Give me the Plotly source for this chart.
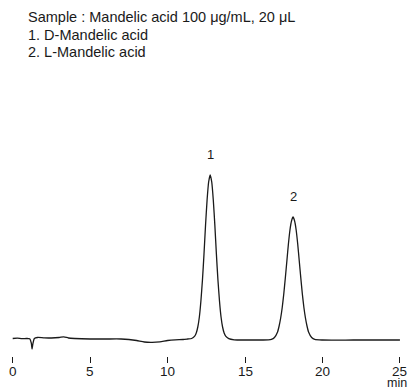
import plotly.graph_objects as go

# Chromatogram trace (time in min, detector response in arbitrary units)
time_min = [0.0, 0.3, 0.6, 0.9, 1.1, 1.2, 1.25, 1.3, 1.4, 1.6, 2.0, 2.5, 3.0, 3.3, 3.6, 4.0,
            5.0, 6.0, 7.0, 7.5, 8.0, 8.5, 9.0, 9.5, 10.0, 10.5, 11.0, 11.3,
            11.55, 11.75, 11.85, 11.95, 12.05, 12.15, 12.25, 12.35, 12.45, 12.55, 12.65,
            12.75, 12.85, 12.95, 13.05, 13.15, 13.25, 13.35, 13.45, 13.55, 13.65, 13.75,
            13.95, 14.3, 15.0, 16.0, 16.5, 16.7, 16.9, 17.1, 17.2, 17.3, 17.4, 17.5, 17.6,
            17.7, 17.8, 17.9, 18.0, 18.1, 18.2, 18.3, 18.4, 18.5, 18.6, 18.7, 18.8, 18.9,
            19.0, 19.1, 19.3, 19.5, 20.0, 22.0, 24.0, 25.0]
signal = [0.5, 0.8, 0.3, 0.5, 0.2, -4, -10, -5, 0.5, 1.5, 1.2, 1.0, 1.5, 2.2, 1.0, 0.5,
          0, 0, 0, -0.5, -1.5, -3, -3.3, -2.8, -1.5, -0.8, -0.5, 0.0,
          0.5, 2.8, 6, 12, 22, 38, 59, 85, 114, 139, 157,
          164, 157, 139, 114, 85, 59, 38, 22, 12, 6, 2.8,
          0.3, -0.8, -1, -1, -0.8, -0.4, 1.5, 7, 13, 21, 31.5, 45, 61,
          78, 95, 109, 118, 122, 118, 109, 95, 78, 61, 45, 31.5, 21,
          13, 7, 1.5, -0.4, -1, -1, -1, -1]

peak_labels = ["1", "2"]
peak_times = [12.75, 18.1]
peak_heights = [164, 122]

tick_vals = [0, 5, 10, 15, 20, 25]
tick_text = ["0", "5", "10", "15", "20", "25"]

header_lines = ["Sample : Mandelic acid 100 μg/mL, 20 μL",
                "1. D-Mandelic acid",
                "2. L-Mandelic acid"]

FONT = "Liberation Sans, Arial, Helvetica, sans-serif"
INK = "#1a1a1a"

fig = go.Figure()
fig.add_trace(go.Scatter(x=time_min, y=signal, mode="lines",
                         line=dict(color=INK, width=1.3, shape="spline", smoothing=0.6),
                         hoverinfo="skip", showlegend=False))

for lab, t, h in zip(peak_labels, peak_times, peak_heights):
    fig.add_annotation(x=t, y=h, text=lab, showarrow=False, xref="x", yref="y",
                       yanchor="bottom", yshift=11,
                       font=dict(family=FONT, size=13, color=INK))

H_PLOT = 356.0
for i, line in enumerate(header_lines):
    ypx = 17 + 17.5 * i
    fig.add_annotation(x=27 / 409, y=1 - ypx / H_PLOT, xref="paper", yref="paper",
                       text=line, showarrow=False, xanchor="left", yanchor="middle",
                       xshift=-1,
                       font=dict(family=FONT, size=14.5, color=INK))

# tick labels placed under the axis ticks
for tv, tt in zip(tick_vals, tick_text):
    fig.add_annotation(x=tv, y=-(371.5 - H_PLOT) / H_PLOT, xref="x", yref="paper",
                       text=tt, showarrow=False, xanchor="center", yanchor="middle",
                       borderpad=0,
                       font=dict(family=FONT, size=13.5, color=INK))

fig.add_annotation(x=24.8, y=-(383 - H_PLOT) / H_PLOT, xref="x", yref="paper",
                   text="min", showarrow=False, xanchor="center", yanchor="middle",
                   borderpad=0,
                   font=dict(family=FONT, size=12.5, color=INK))

fig.update_layout(
    width=409, height=390,
    margin=dict(l=0, r=0, t=0, b=34, pad=0),
    paper_bgcolor="white", plot_bgcolor="white",
    xaxis=dict(range=[-0.82, 25.585], tickvals=tick_vals, showticklabels=False,
               ticks="outside", ticklen=6, tickwidth=1, tickcolor=INK,
               showline=False, showgrid=False, zeroline=False),
    yaxis=dict(range=[-17, 339], visible=False, showgrid=False, zeroline=False),
)

fig.write_html("out.html", config={"displayModeBar": False},
               post_script="document.body.style.margin='0';")
